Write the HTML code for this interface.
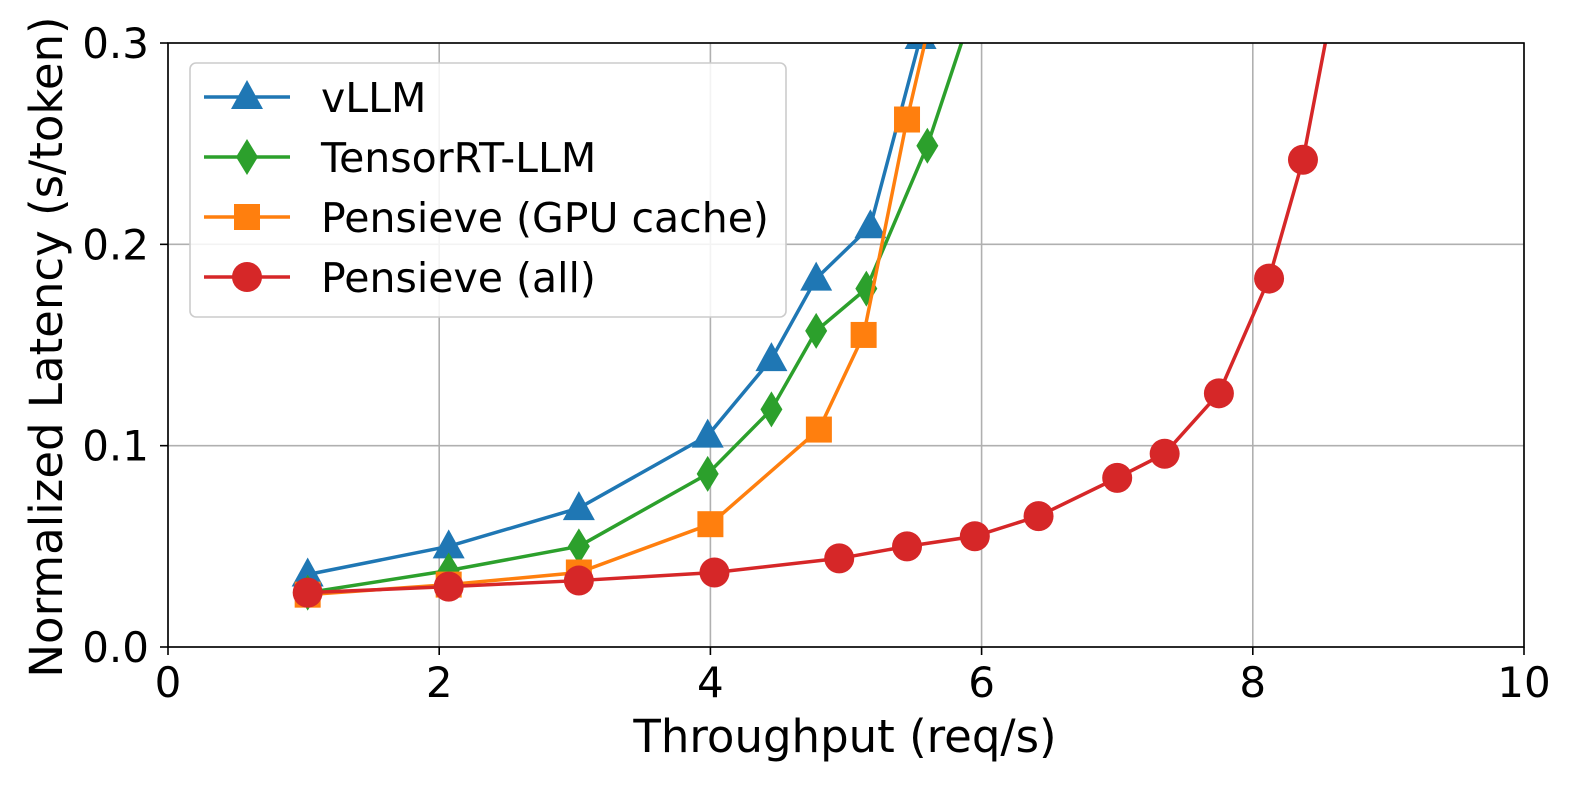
<!DOCTYPE html>
<html><head><meta charset="utf-8"><style>
html,body{margin:0;padding:0;background:#fff;overflow:hidden;width:1578px;height:789px;}
svg{display:block;}
svg text{font-family:"DejaVu Sans","Liberation Sans",sans-serif;fill:#000;}
</style></head><body>
<svg id="chart" width="1578" height="789" viewBox="0 0 1578 789">
<defs><clipPath id="clip"><rect x="168" y="43" width="1356" height="604"/></clipPath></defs>
<g id="grid"></g>
<g id="series" clip-path="url(#clip)"></g>
<rect x="168" y="43" width="1356" height="604" fill="none" stroke="#000" stroke-width="1.6"/>
<g id="ticks"></g>
<text x="845" y="752" font-size="45" text-anchor="middle">Throughput (req/s)</text>
<text transform="translate(62,347) rotate(-90)" font-size="45" text-anchor="middle">Normalized Latency (s/token)</text>
<g id="legend"></g>
</svg>
<script>
const xTicks=[0,2,4,6,8,10];
const yTicks=[0.0,0.1,0.2,0.3];
const yTickLabels=["0.0","0.1","0.2","0.3"];
const seriesNames=["vLLM","TensorRT-LLM","Pensieve (GPU cache)","Pensieve (all)"];
const seriesColors=["#1f77b4","#2ca02c","#ff7f0e","#d62728"];
const seriesMarkers=["triangle","diamond","square","circle"];
const vllmX=[1.03,2.07,3.03,3.98,4.45,4.78,5.18,5.55,5.75];
const vllmY=[0.036,0.050,0.069,0.105,0.143,0.183,0.209,0.303,0.36];
const trtX=[1.03,2.07,3.03,3.98,4.45,4.78,5.15,5.6,5.95];
const trtY=[0.027,0.038,0.050,0.086,0.118,0.157,0.178,0.249,0.32];
const gpuX=[1.03,2.07,3.03,4.0,4.8,5.13,5.45,5.72];
const gpuY=[0.026,0.031,0.037,0.061,0.108,0.155,0.262,0.34];
const allX=[1.03,2.07,3.03,4.03,4.95,5.45,5.95,6.42,7.0,7.35,7.75,8.12,8.37,8.62];
const allY=[0.027,0.030,0.033,0.037,0.044,0.050,0.055,0.065,0.084,0.096,0.126,0.183,0.242,0.33];
const allSeries=[[vllmX,vllmY],[trtX,trtY],[gpuX,gpuY],[allX,allY]];
const NS="http://www.w3.org/2000/svg";
const sx=v=>168+v*135.6, sy=v=>647-v*2013.3;
function mk(tag,attrs,parent){const e=document.createElementNS(NS,tag);for(const k in attrs)e.setAttribute(k,attrs[k]);parent.appendChild(e);return e;}
const grid=document.getElementById('grid'),ticks=document.getElementById('ticks');
xTicks.forEach(t=>{
 const l=mk('line',{x1:sx(t),x2:sx(t),y1:43,y2:647,stroke:'#b0b0b0','stroke-width':1.6},grid);
 
 
 mk('line',{x1:sx(t),x2:sx(t),y1:647,y2:655,stroke:'#000','stroke-width':1.6},ticks);
 const tx=mk('text',{x:sx(t),y:697,'font-size':42,'text-anchor':'middle'},ticks);tx.textContent=t;
 
 
});
yTicks.forEach((t,i)=>{
 const l=mk('line',{x1:168,x2:1524,y1:sy(t),y2:sy(t),stroke:'#b0b0b0','stroke-width':1.6},grid);
 
 
 mk('line',{x1:160,x2:168,y1:sy(t),y2:sy(t),stroke:'#000','stroke-width':1.6},ticks);
 const tx=mk('text',{x:149,y:sy(t)+15,'font-size':42,'text-anchor':'end'},ticks);tx.textContent=yTickLabels[i];
 
 
});
function marker(type,x,y,c,parent){
 let e;
 if(type==='triangle')e=mk('polygon',{points:`${x},${y-17} ${x-16},${y+12} ${x+16},${y+12}`,fill:c},parent);
 else if(type==='diamond')e=mk('polygon',{points:`${x},${y-18} ${x-11},${y} ${x},${y+18} ${x+11},${y}`,fill:c},parent);
 else if(type==='square')e=mk('rect',{x:x-13,y:y-13,width:26,height:26,fill:c},parent);
 else e=mk('circle',{cx:x,cy:y,r:15,fill:c},parent);
 return e;
}
const sg=document.getElementById('series');
allSeries.forEach(([xs,ys],i)=>{
 const g=mk('g',{},sg);
 
 
 const p=mk('polyline',{points:xs.map((x,j)=>sx(x)+','+sy(ys[j])).join(' '),fill:'none',stroke:seriesColors[i],'stroke-width':3.5},g);
 
 
 xs.forEach((x,j)=>{const m=marker(seriesMarkers[i],sx(x),sy(ys[j]),seriesColors[i],g);
  
  });
});
const lg=document.getElementById('legend');
const box=mk('rect',{x:190,y:63,width:596,height:254,rx:6,fill:'#fff','fill-opacity':0.85,stroke:'#ccc','stroke-width':1.6},lg);


seriesNames.forEach((n,i)=>{
 const y=97+i*60;
 const g=mk('g',{},lg);
 
 
 mk('line',{x1:204,x2:290,y1:y,y2:y,stroke:seriesColors[i],'stroke-width':3.5},g);
 marker(seriesMarkers[i],247,y,seriesColors[i],g);
 const t=mk('text',{x:321,y:y+15,'font-size':41},g);t.textContent=n;
});
</script>
</body></html>
